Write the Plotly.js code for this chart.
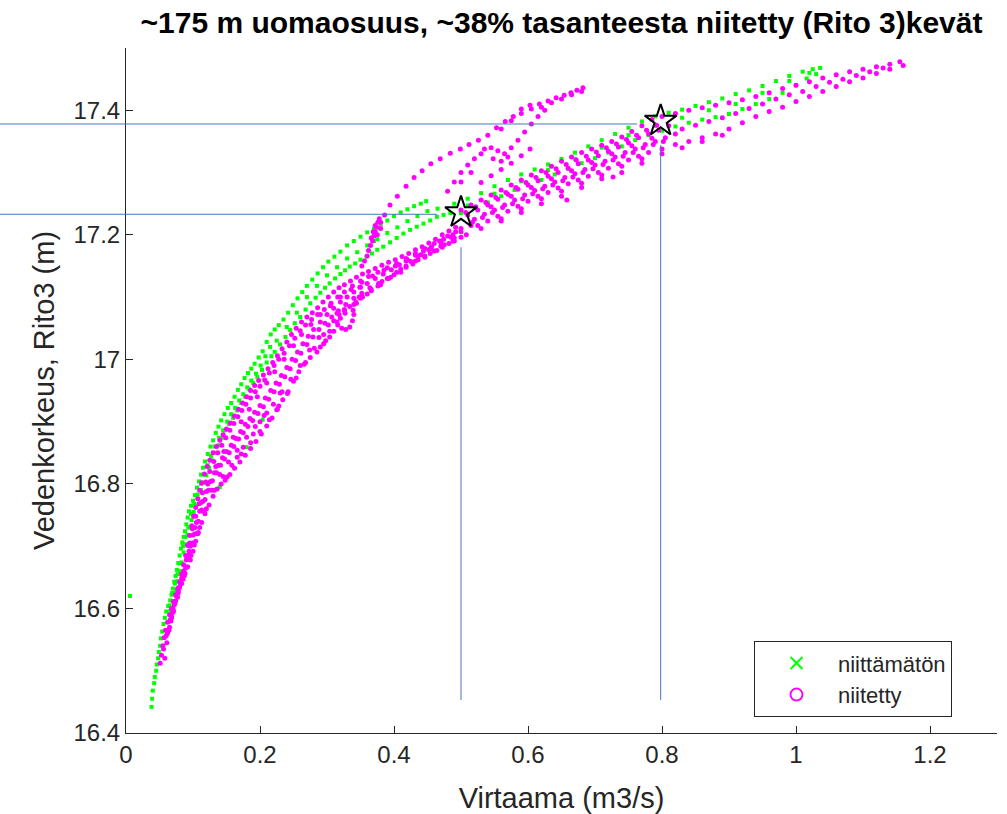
<!DOCTYPE html>
<html>
<head>
<meta charset="utf-8">
<script src="https://cdn.plot.ly/plotly-3.0.1.min.js"></script>
<style>html,body{margin:0;padding:0;background:#fff;}#chart{width:1007px;height:814px;}</style>
</head>
<body>
<div id="chart"></div>
<script>
// ---- Data (Virtaama m3/s, Vedenkorkeus m) ----
const seriesNames = ['niittämätön', 'niitetty'];
const xTickVals = [0, 0.2, 0.4, 0.6, 0.8, 1, 1.2];
const yTickVals = [16.4, 16.6, 16.8, 17, 17.2, 17.4];

// niittämätön (green)
const greenTail = [[0.038,16.442],[0.039,16.455],[0.040,16.468],[0.042,16.48],[0.043,16.49],[0.045,16.50],[0.046,16.51],[0.048,16.52],[0.049,16.53],[0.051,16.54],[0.052,16.552],[0.054,16.563],[0.056,16.575],[0.058,16.585],[0.060,16.595],[0.006,16.62]];
const greenEdge = [[0.063,16.604],[0.066,16.613],[0.068,16.622],[0.070,16.632],[0.072,16.643],[0.074,16.652],[0.076,16.662],[0.078,16.673],[0.080,16.685],[0.082,16.696],[0.084,16.706],[0.086,16.715],[0.088,16.724],[0.090,16.735],[0.092,16.746],[0.094,16.756],[0.097,16.765],[0.100,16.773],[0.103,16.782],[0.106,16.794],[0.109,16.804],[0.112,16.815],[0.115,16.826],[0.118,16.836],[0.122,16.848],[0.126,16.86],[0.130,16.87],[0.134,16.882],[0.138,16.892],[0.142,16.902],[0.147,16.912],[0.152,16.922],[0.157,16.93],[0.162,16.94],[0.167,16.951],[0.172,16.96],[0.177,16.97],[0.182,16.978],[0.187,16.985],[0.192,16.993],[0.198,17.003],[0.204,17.013],[0.210,17.028],[0.216,17.04],[0.222,17.048],[0.228,17.055],[0.235,17.064],[0.242,17.075],[0.249,17.087],[0.256,17.098],[0.263,17.108],[0.270,17.118],[0.278,17.128],[0.286,17.138],[0.294,17.148],[0.302,17.157],[0.311,17.165],[0.320,17.173],[0.330,17.183],[0.340,17.19],[0.350,17.197],[0.360,17.204],[0.370,17.21],[0.380,17.216],[0.390,17.223],[0.400,17.23],[0.410,17.236],[0.420,17.241],[0.430,17.246],[0.440,17.25],[0.448,17.254]];
const greenFillLow = [[0.065,16.605],[0.069,16.625],[0.073,16.64],[0.077,16.655],[0.081,16.672],[0.085,16.70],[0.089,16.715],[0.093,16.73],[0.097,16.752],[0.102,16.768],[0.107,16.783],[0.112,16.80],[0.117,16.815],[0.122,16.83],[0.127,16.845],[0.133,16.86],[0.139,16.874],[0.145,16.886],[0.151,16.90],[0.157,16.912],[0.163,16.922],[0.169,16.934],[0.175,16.944],[0.181,16.955],[0.187,16.966],[0.194,16.977],[0.201,16.99],[0.208,17.005],[0.215,17.02]];
const greenInnerLow = [[0.066,16.596],[0.070,16.612],[0.074,16.628],[0.077,16.644],[0.080,16.66],[0.083,16.674],[0.086,16.69],[0.089,16.703],[0.092,16.718],[0.095,16.73],[0.098,16.742],[0.101,16.755],[0.104,16.764],[0.108,16.776],[0.112,16.79],[0.116,16.802],[0.120,16.814],[0.124,16.826],[0.128,16.838],[0.133,16.85],[0.138,16.862],[0.143,16.874],[0.148,16.886],[0.154,16.896],[0.160,16.906],[0.166,16.918],[0.172,16.93],[0.178,16.94],[0.184,16.952],[0.190,16.962],[0.196,16.972],[0.203,16.983],[0.210,16.995],[0.217,17.005]];
const greenInnerMid = [[0.222,17.012],[0.230,17.024],[0.238,17.036],[0.245,17.047],[0.252,17.058],[0.260,17.068],[0.268,17.08],[0.275,17.09],[0.283,17.099],[0.290,17.107],[0.297,17.115],[0.304,17.122],[0.312,17.13],[0.320,17.137],[0.327,17.143],[0.334,17.149],[0.342,17.154],[0.350,17.16],[0.359,17.165],[0.367,17.17],[0.375,17.176],[0.384,17.181],[0.394,17.188],[0.404,17.195],[0.414,17.202],[0.424,17.208],[0.434,17.213],[0.444,17.218],[0.454,17.223],[0.464,17.229],[0.474,17.232],[0.484,17.235]];
const greenFillMid = [[0.225,17.03],[0.240,17.052],[0.255,17.075],[0.270,17.10],[0.285,17.118],[0.300,17.135],[0.315,17.148],[0.330,17.162],[0.345,17.172],[0.360,17.183],[0.375,17.193],[0.390,17.203],[0.405,17.212],[0.420,17.222],[0.435,17.23],[0.450,17.238],[0.465,17.242]];
const greenHighUpper = [[0.49,17.25],[0.51,17.258],[0.53,17.267],[0.55,17.278],[0.57,17.288],[0.59,17.297],[0.61,17.305],[0.63,17.313],[0.65,17.322],[0.67,17.332],[0.69,17.342],[0.71,17.352],[0.73,17.362],[0.75,17.372],[0.77,17.382],[0.79,17.39],[0.81,17.396],[0.83,17.401],[0.85,17.407],[0.87,17.413],[0.89,17.419],[0.91,17.426],[0.93,17.432],[0.95,17.439],[0.97,17.447],[0.99,17.455],[1.01,17.462],[1.025,17.466],[1.036,17.468]];
const greenHighLower = [[0.50,17.235],[0.52,17.243],[0.54,17.252],[0.56,17.262],[0.58,17.272],[0.60,17.28],[0.62,17.288],[0.64,17.297],[0.66,17.306],[0.68,17.315],[0.70,17.323],[0.72,17.332],[0.74,17.342],[0.76,17.352],[0.78,17.36],[0.80,17.367],[0.82,17.374],[0.84,17.38],[0.86,17.385],[0.88,17.389],[0.90,17.394],[0.92,17.402],[0.94,17.41],[0.96,17.418],[0.98,17.428],[1.00,17.44],[1.016,17.451],[1.03,17.458]];
const greenHighMid = [[0.51,17.247],[0.55,17.266],[0.59,17.286],[0.63,17.304],[0.67,17.322],[0.71,17.34],[0.75,17.36],[0.79,17.375],[0.83,17.388],[0.87,17.40],[0.91,17.41],[0.95,17.428],[0.99,17.447],[1.02,17.46]];
const greenScatter = [[0.14,16.795],[0.18,16.859],[0.204,16.903],[0.33,17.10],[0.37,17.19]];

// niitetty (magenta)
const pinkLowA = [[0.051,16.512],[0.053,16.525],[0.055,16.54],[0.057,16.553],[0.059,16.565],[0.062,16.578],[0.065,16.59],[0.068,16.60],[0.071,16.611],[0.074,16.622],[0.077,16.632],[0.080,16.642],[0.083,16.655],[0.086,16.67],[0.089,16.685],[0.092,16.701],[0.095,16.717],[0.098,16.733],[0.101,16.748],[0.104,16.762],[0.107,16.776],[0.110,16.79],[0.113,16.802],[0.117,16.816],[0.121,16.828],[0.125,16.838],[0.130,16.85],[0.135,16.86],[0.140,16.87],[0.145,16.879],[0.150,16.888],[0.156,16.898],[0.162,16.909],[0.168,16.92],[0.174,16.93],[0.180,16.94],[0.186,16.95],[0.192,16.958],[0.198,16.966],[0.205,16.975],[0.212,16.985],[0.219,16.995],[0.226,17.006],[0.233,17.017],[0.240,17.028],[0.247,17.04],[0.254,17.05],[0.262,17.06],[0.270,17.068],[0.278,17.075],[0.286,17.083],[0.294,17.092],[0.302,17.10],[0.310,17.108],[0.318,17.115],[0.326,17.12],[0.335,17.126],[0.344,17.132],[0.353,17.137],[0.362,17.141],[0.372,17.146],[0.382,17.151],[0.392,17.156],[0.402,17.16],[0.412,17.165],[0.422,17.17],[0.432,17.176],[0.442,17.181],[0.452,17.187],[0.462,17.193],[0.472,17.20],[0.482,17.206],[0.492,17.212]];
const pinkLowB = [[0.058,16.52],[0.061,16.545],[0.064,16.565],[0.067,16.58],[0.070,16.594],[0.073,16.608],[0.076,16.62],[0.079,16.632],[0.082,16.64],[0.085,16.647],[0.088,16.656],[0.092,16.667],[0.096,16.678],[0.100,16.692],[0.104,16.708],[0.108,16.722],[0.113,16.738],[0.118,16.752],[0.124,16.766],[0.130,16.78],[0.136,16.792],[0.142,16.80],[0.148,16.806],[0.155,16.815],[0.162,16.825],[0.170,16.835],[0.178,16.846],[0.186,16.857],[0.194,16.868],[0.202,16.88],[0.210,16.893],[0.218,16.906],[0.226,16.92],[0.234,16.935],[0.242,16.948],[0.250,16.965],[0.258,16.98],[0.266,16.992],[0.275,17.003],[0.285,17.012],[0.295,17.025],[0.304,17.045],[0.315,17.06],[0.327,17.074],[0.340,17.088],[0.353,17.10],[0.366,17.11],[0.380,17.12],[0.395,17.132],[0.410,17.145],[0.425,17.157],[0.440,17.168],[0.455,17.178],[0.470,17.188],[0.485,17.196],[0.500,17.205],[0.515,17.215]];
const pinkLowC = [[0.062,16.56],[0.068,16.588],[0.074,16.612],[0.080,16.635],[0.086,16.66],[0.091,16.68],[0.096,16.70],[0.100,16.718],[0.105,16.738],[0.110,16.756],[0.115,16.772],[0.120,16.788],[0.126,16.804],[0.132,16.818],[0.138,16.83],[0.144,16.842],[0.150,16.852],[0.157,16.862],[0.164,16.873],[0.171,16.884],[0.178,16.896],[0.185,16.905],[0.192,16.915],[0.200,16.926],[0.208,16.938],[0.216,16.95],[0.224,16.962],[0.232,16.974],[0.240,16.987],[0.248,17.00],[0.256,17.012],[0.264,17.025],[0.272,17.037],[0.280,17.048],[0.290,17.06],[0.300,17.072],[0.310,17.082],[0.320,17.092],[0.330,17.10],[0.340,17.108],[0.350,17.116],[0.360,17.122],[0.372,17.13],[0.384,17.137],[0.396,17.144],[0.408,17.152],[0.420,17.16],[0.432,17.167],[0.444,17.174],[0.456,17.181],[0.468,17.19],[0.480,17.198],[0.492,17.205]];
const pinkLowD = [[0.070,16.60],[0.083,16.648],[0.094,16.692],[0.103,16.73],[0.112,16.77],[0.122,16.80],[0.134,16.828],[0.146,16.852],[0.160,16.875],[0.172,16.90],[0.184,16.92],[0.196,16.94],[0.210,16.962],[0.222,16.98],[0.236,17.00],[0.250,17.022],[0.262,17.04],[0.276,17.056],[0.290,17.072],[0.305,17.086],[0.320,17.10],[0.336,17.112],[0.352,17.124],[0.368,17.134],[0.385,17.143],[0.402,17.15],[0.418,17.158],[0.436,17.166],[0.452,17.176],[0.470,17.182],[0.488,17.19]];
const pinkLowE = [[0.075,16.62],[0.087,16.652],[0.097,16.685],[0.107,16.72],[0.117,16.755],[0.128,16.79],[0.140,16.815],[0.153,16.835],[0.166,16.854],[0.180,16.875],[0.193,16.892],[0.206,16.91],[0.220,16.928],[0.233,16.948],[0.246,16.968],[0.260,16.99],[0.274,17.015],[0.288,17.035],[0.302,17.055],[0.318,17.072],[0.334,17.085],[0.350,17.098],[0.366,17.112],[0.382,17.125],[0.400,17.136],[0.418,17.148],[0.436,17.16],[0.454,17.17],[0.472,17.18],[0.490,17.19],[0.508,17.20]];
const pinkLowF = [[0.056,16.535],[0.060,16.556],[0.066,16.582],[0.072,16.606],[0.078,16.628],[0.084,16.652],[0.090,16.678],[0.095,16.705],[0.099,16.728],[0.104,16.748],[0.109,16.768],[0.114,16.786],[0.119,16.803],[0.125,16.82],[0.131,16.836],[0.137,16.85],[0.143,16.862],[0.149,16.874],[0.155,16.886],[0.161,16.897],[0.167,16.908],[0.173,16.918],[0.179,16.928],[0.186,16.938],[0.193,16.948],[0.200,16.957],[0.207,16.967],[0.214,16.978],[0.221,16.99],[0.228,17.00],[0.236,17.01],[0.244,17.022],[0.252,17.034],[0.260,17.046],[0.268,17.055],[0.277,17.064],[0.286,17.072],[0.296,17.08],[0.306,17.09],[0.316,17.10],[0.326,17.108],[0.338,17.118],[0.350,17.126],[0.362,17.133],[0.376,17.14],[0.390,17.147],[0.404,17.154],[0.418,17.162],[0.432,17.17],[0.446,17.178],[0.460,17.186],[0.474,17.193],[0.488,17.20],[0.500,17.21]];
const pinkLowG = [[0.065,16.57],[0.071,16.596],[0.077,16.618],[0.083,16.64],[0.089,16.665],[0.094,16.686],[0.099,16.705],[0.103,16.72],[0.108,16.74],[0.113,16.758],[0.118,16.775],[0.123,16.79],[0.129,16.805],[0.135,16.818],[0.141,16.83],[0.147,16.84],[0.154,16.85],[0.161,16.86],[0.168,16.872],[0.175,16.882],[0.182,16.892],[0.189,16.902],[0.197,16.913],[0.205,16.924],[0.213,16.936],[0.221,16.948],[0.229,16.96],[0.237,16.972],[0.245,16.985],[0.253,16.998],[0.261,17.01],[0.270,17.024],[0.279,17.036],[0.288,17.048],[0.297,17.058],[0.307,17.068],[0.317,17.078],[0.328,17.088],[0.340,17.098],[0.352,17.106],[0.364,17.115],[0.377,17.122],[0.390,17.13],[0.404,17.14],[0.418,17.15],[0.432,17.158],[0.446,17.166],[0.460,17.174],[0.475,17.184],[0.490,17.195]];
const pinkLowH = [[0.068,16.585],[0.078,16.625],[0.087,16.658],[0.094,16.68],[0.102,16.702],[0.110,16.73],[0.120,16.76],[0.132,16.79],[0.145,16.812],[0.158,16.83],[0.172,16.848],[0.186,16.866],[0.200,16.884],[0.214,16.903],[0.228,16.925],[0.241,16.945],[0.254,16.97],[0.268,16.995],[0.281,17.018],[0.295,17.04],[0.310,17.062],[0.326,17.078],[0.343,17.092],[0.360,17.105],[0.376,17.118],[0.392,17.13],[0.410,17.14],[0.428,17.153],[0.446,17.164],[0.464,17.175],[0.482,17.186],[0.500,17.196]];
const pinkHighU1 = [[0.50,17.24],[0.515,17.248],[0.53,17.256],[0.545,17.264],[0.56,17.272],[0.575,17.28],[0.59,17.288],[0.605,17.296],[0.62,17.303],[0.635,17.31],[0.65,17.318],[0.665,17.325],[0.68,17.332],[0.695,17.338],[0.71,17.344],[0.725,17.35],[0.74,17.357],[0.755,17.366],[0.77,17.375],[0.785,17.385],[0.80,17.39],[0.82,17.395],[0.84,17.40],[0.86,17.404],[0.88,17.408],[0.90,17.412],[0.92,17.417],[0.94,17.422],[0.96,17.428],[0.98,17.435],[1.00,17.44],[1.02,17.446],[1.04,17.452],[1.06,17.457],[1.08,17.462],[1.10,17.466],[1.12,17.47],[1.14,17.474],[1.155,17.478]];
const pinkHighU2 = [[0.51,17.232],[0.525,17.24],[0.54,17.248],[0.555,17.257],[0.57,17.265],[0.585,17.273],[0.60,17.28],[0.615,17.287],[0.63,17.294],[0.645,17.30],[0.66,17.307],[0.675,17.314],[0.69,17.32],[0.705,17.327],[0.72,17.334],[0.735,17.341],[0.75,17.348],[0.765,17.356],[0.78,17.362],[0.795,17.368],[0.81,17.375]];
const pinkHighU3 = [[0.52,17.225],[0.535,17.233],[0.55,17.24],[0.565,17.248],[0.58,17.256],[0.595,17.264],[0.61,17.271],[0.625,17.278],[0.64,17.285],[0.655,17.292],[0.67,17.298],[0.685,17.305],[0.70,17.312],[0.715,17.318],[0.73,17.325],[0.745,17.332],[0.76,17.338],[0.775,17.345],[0.79,17.35],[0.805,17.356],[0.82,17.362]];
const pinkHighU4 = [[0.525,17.215],[0.54,17.222],[0.555,17.23],[0.57,17.238],[0.585,17.246],[0.60,17.254],[0.615,17.262],[0.63,17.268],[0.645,17.275],[0.66,17.282],[0.675,17.288],[0.69,17.294],[0.705,17.30],[0.72,17.307],[0.735,17.314],[0.75,17.32],[0.765,17.326],[0.78,17.332],[0.80,17.338],[0.82,17.345],[0.84,17.35],[0.86,17.356],[0.88,17.362],[0.90,17.37],[0.92,17.38],[0.94,17.39],[0.96,17.398],[0.98,17.405],[1.00,17.414],[1.02,17.422],[1.04,17.43],[1.06,17.438],[1.08,17.446],[1.10,17.452],[1.12,17.459],[1.14,17.466],[1.16,17.472]];
const pinkHighU5 = [[0.83,17.37],[0.85,17.376],[0.87,17.382],[0.89,17.388],[0.91,17.395],[0.93,17.403],[0.95,17.41],[0.97,17.418],[0.99,17.425],[1.01,17.43],[1.03,17.438],[1.05,17.445],[1.07,17.45],[1.09,17.456],[1.11,17.462],[1.13,17.468]];
const pinkHighU6 = [[0.507,17.236],[0.522,17.245],[0.537,17.252],[0.552,17.26],[0.567,17.268],[0.582,17.276],[0.597,17.284],[0.612,17.292],[0.627,17.30],[0.642,17.306],[0.657,17.313],[0.672,17.32],[0.687,17.326],[0.702,17.333],[0.717,17.34],[0.732,17.346],[0.747,17.353],[0.762,17.36],[0.777,17.368],[0.792,17.376]];
const pinkHighU7 = [[0.517,17.22],[0.532,17.228],[0.547,17.236],[0.562,17.244],[0.577,17.25],[0.592,17.258],[0.607,17.266],[0.622,17.274],[0.637,17.28],[0.652,17.287],[0.667,17.293],[0.682,17.30],[0.697,17.306],[0.712,17.313],[0.727,17.32],[0.742,17.326],[0.757,17.332],[0.772,17.34],[0.787,17.345],[0.802,17.35]];
const pinkHighU8 = [[0.53,17.21],[0.56,17.222],[0.59,17.236],[0.62,17.25],[0.65,17.262],[0.68,17.276],[0.71,17.29],[0.74,17.30],[0.77,17.315],[0.80,17.33],[0.83,17.34],[0.86,17.35],[0.89,17.36]];
const pinkHighFill = [[0.545,17.245],[0.575,17.262],[0.605,17.276],[0.635,17.29],[0.665,17.303],[0.695,17.316],[0.725,17.33],[0.755,17.343],[0.785,17.355],[0.56,17.226],[0.59,17.242],[0.62,17.258],[0.65,17.27],[0.68,17.283],[0.71,17.296],[0.74,17.31],[0.77,17.322],[0.727,17.293],[0.658,17.256]];
const pinkTopStrand = [[0.380,17.22],[0.386,17.232],[0.394,17.248],[0.405,17.262],[0.418,17.278],[0.430,17.292],[0.442,17.303],[0.455,17.314],[0.469,17.322],[0.484,17.331],[0.499,17.338],[0.512,17.345],[0.526,17.352],[0.540,17.36],[0.553,17.372],[0.566,17.382],[0.578,17.39],[0.590,17.402],[0.603,17.408],[0.617,17.41],[0.630,17.415],[0.642,17.42],[0.654,17.424],[0.664,17.428],[0.673,17.432],[0.682,17.436],[0.560,17.37],[0.575,17.383],[0.590,17.395],[0.605,17.402],[0.620,17.405],[0.635,17.412],[0.650,17.418],[0.665,17.425],[0.680,17.43]];
const pinkSecondStrand = [[0.48,17.27],[0.49,17.285],[0.50,17.30],[0.51,17.312],[0.52,17.322],[0.53,17.33],[0.535,17.338],[0.545,17.34],[0.555,17.335],[0.565,17.33],[0.575,17.34],[0.585,17.352],[0.595,17.365],[0.605,17.378],[0.615,17.39],[0.625,17.40],[0.548,17.322],[0.56,17.318],[0.57,17.325],[0.50,17.285],[0.515,17.30],[0.53,17.284],[0.545,17.295],[0.56,17.305],[0.575,17.315],[0.59,17.327],[0.603,17.338]];
const pinkSpike = [[0.352,17.15],[0.356,17.158],[0.360,17.166],[0.362,17.175],[0.365,17.183],[0.368,17.19],[0.370,17.198],[0.372,17.205],[0.374,17.212],[0.376,17.22],[0.378,17.226],[0.369,17.205],[0.366,17.195],[0.372,17.215],[0.375,17.20],[0.380,17.21]];
const pinkHook = [[0.290,17.02],[0.298,17.03],[0.304,17.036],[0.310,17.045],[0.316,17.055],[0.322,17.05],[0.328,17.048],[0.334,17.052],[0.338,17.062],[0.340,17.072],[0.339,17.079],[0.344,17.09],[0.348,17.10],[0.349,17.116],[0.315,17.074],[0.320,17.066],[0.326,17.08]];
const pinkScatter = [[0.23,16.946],[0.225,16.919],[0.21,16.914],[0.175,16.859],[0.166,16.843],[0.151,16.811],[0.20,16.90],[0.19,16.88]];

// Reference markers (stars) and guide lines
const starQ = [0.5, 0.798];
const starH = [17.236, 17.383];
const guideH = [17.233, 17.378];        // horizontal guide levels
const guideHEndQ = [0.464, 0.763];      // where horizontal guides stop
const guideQ = [0.5, 0.798];            // vertical guide positions
const guideQTopH = [17.18, 17.344];     // vertical guide tops
const guideBottomH = 16.453;            // vertical guide bottom

const xRange = [0, 1.3];
const yRange = [16.4, 17.5];

// ---- Build ----
const greenAll = [].concat(greenTail, greenEdge, greenFillLow, greenInnerLow, greenInnerMid, greenFillMid, greenHighUpper, greenHighLower, greenHighMid, greenScatter);
const pinkAll = [].concat(pinkLowA, pinkLowB, pinkLowC, pinkLowD, pinkLowE, pinkLowF, pinkLowG, pinkLowH, pinkHighU1, pinkHighU2, pinkHighU3, pinkHighU4, pinkHighU5, pinkHighU6, pinkHighU7, pinkHighU8, pinkHighFill, pinkTopStrand, pinkSecondStrand, pinkSpike, pinkHook, pinkScatter);

const GREEN = '#00ff00', PINK = '#ff00ff', INK = '#262626', GUIDE = '#4a72c0';
const FONT = 'Liberation Sans, Arial, Helvetica, sans-serif';

const traces = [
  {x: greenAll.map(p => p[0]), y: greenAll.map(p => p[1]), type: 'scatter', mode: 'markers',
   marker: {symbol: 'square', size: 4, color: GREEN}, showlegend: false, hoverinfo: 'skip'},
  {x: pinkAll.map(p => p[0]), y: pinkAll.map(p => p[1]), type: 'scatter', mode: 'markers',
   marker: {symbol: 'circle', size: 5, color: PINK}, showlegend: false, hoverinfo: 'skip'},
  {x: starQ, y: starH, type: 'scatter', mode: 'markers',
   marker: {symbol: 'star-open', size: 24, color: '#000', line: {width: 2, color: '#000'}}, showlegend: false},
  {x: [null], y: [null], type: 'scatter', mode: 'markers', name: seriesNames[0],
   marker: {symbol: 'x-thin-open', size: 12, color: GREEN, line: {width: 2, color: GREEN}}},
  {x: [null], y: [null], type: 'scatter', mode: 'markers', name: seriesNames[1],
   marker: {symbol: 'circle-open', size: 12, color: PINK, line: {width: 2, color: PINK}}}
];

const span = xRange[1] - xRange[0];
const shapes = [];
guideH.forEach((h, i) => {
  shapes.push({type: 'line', xref: 'paper', yref: 'y', x0: -0.2, x1: (guideHEndQ[i] - xRange[0]) / span,
    y0: h, y1: h, line: {color: GUIDE, width: 1}});
});
guideQ.forEach((q, i) => {
  shapes.push({type: 'line', xref: 'x', yref: 'y', x0: q, x1: q, y0: guideBottomH, y1: guideQTopH[i],
    line: {color: GUIDE, width: 1}});
});

const layout = {
  width: 1007, height: 814,
  margin: {l: 126, r: 10, t: 48, b: 81},
  paper_bgcolor: '#fff', plot_bgcolor: '#fff',
  font: {family: FONT, color: INK},
  title: {text: '~175 m uomaosuus, ~38% tasanteesta niitetty (Rito 3)kevät',
    font: {family: FONT, size: 30, color: '#000', weight: 'bold'},
    xref: 'paper', x: 0.5, xanchor: 'center', yref: 'container', y: 0.972, yanchor: 'middle'},
  xaxis: {range: xRange, tickvals: xTickVals, ticks: 'inside', ticklen: 7, tickcolor: INK,
    showline: true, linecolor: INK, linewidth: 1, showgrid: false, zeroline: false, mirror: false,
    tickfont: {size: 24, color: INK}, title: {text: 'Virtaama (m3/s)', font: {size: 29, color: INK}, standoff: 20}},
  yaxis: {range: yRange, tickvals: yTickVals, ticks: 'inside', ticklen: 7, tickcolor: INK,
    showline: true, linecolor: INK, linewidth: 1, showgrid: false, zeroline: false, mirror: false,
    tickfont: {size: 24, color: INK}, title: {text: 'Vedenkorkeus, Rito3 (m)', font: {size: 29, color: INK}, standoff: 10}},
  legend: {x: 0.721, y: 0.134, xanchor: 'left', yanchor: 'top', bgcolor: '#fff',
    bordercolor: INK, borderwidth: 1, font: {size: 22, color: INK}, itemwidth: 73},
  shapes: shapes
};

Plotly.newPlot('chart', traces, layout, {displayModeBar: false, staticPlot: true});
</script>
</body>
</html>
